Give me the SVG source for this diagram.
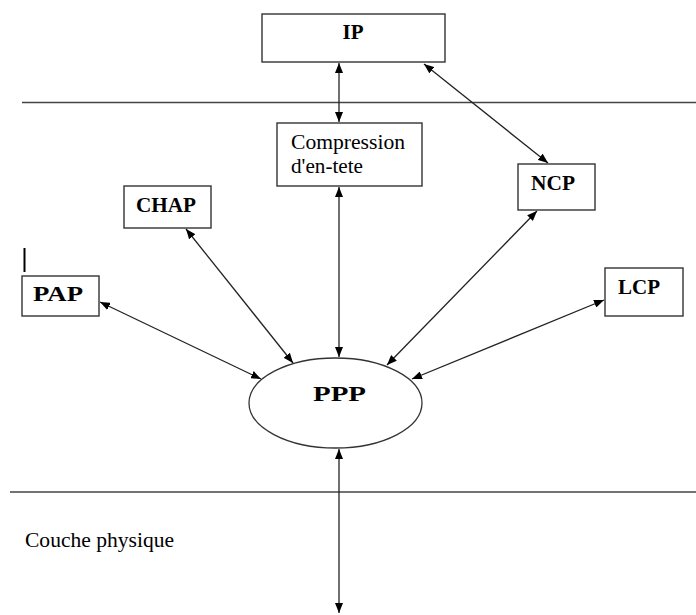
<svg xmlns="http://www.w3.org/2000/svg" width="696" height="615" viewBox="0 0 696 615">
  <style>
    .box { fill: #ffffff; stroke: #333333; stroke-width: 1.4; }
    .lbl { font-family: "Liberation Serif", "Times New Roman", serif; font-size: 21px; fill: #000000; }
    .b { font-weight: bold; }
    .layer { stroke: #444444; stroke-width: 1.3; }
    .link { stroke: #222222; stroke-width: 1.3; fill: none; marker-start: url(#tip); marker-end: url(#tip); }
  </style>
  <defs>
    <marker id="tip" viewBox="0 0 10 8" refX="10" refY="4" markerWidth="10" markerHeight="8" markerUnits="userSpaceOnUse" orient="auto-start-reverse">
      <path d="M0,0 L10,4 L0,8 Z" fill="#000000"/>
    </marker>
  </defs>

  <rect width="696" height="615" fill="#ffffff"/>

  <!-- layer separators -->
  <g id="layers">
    <line class="layer" x1="22" y1="102.5" x2="696" y2="102.5"/>
    <line class="layer" x1="10" y1="492" x2="696" y2="492"/>
    <line x1="24.5" y1="248" x2="24.5" y2="272" stroke="#000000" stroke-width="2"/>
  </g>

  <!-- connectors -->
  <g id="connectors">
    <line class="link" x1="339" y1="63" x2="339" y2="122"/>
    <line class="link" x1="339" y1="187" x2="339" y2="357"/>
    <line class="link" x1="424" y1="64" x2="548" y2="163"/>
    <line class="link" x1="537" y1="211" x2="387" y2="365"/>
    <line class="link" x1="604" y1="300" x2="412" y2="379"/>
    <line class="link" x1="186" y1="229" x2="293" y2="363"/>
    <line class="link" x1="100" y1="302" x2="261" y2="379"/>
    <line class="link" x1="339" y1="449" x2="339" y2="613"/>
  </g>

  <g id="ip">
    <rect class="box" x="262" y="14" width="183" height="48"/>
    <text class="lbl b" x="353" y="39" text-anchor="middle">IP</text>
  </g>

  <g id="compression">
    <rect class="box" x="277" y="123" width="145" height="63"/>
    <text class="lbl" x="291" y="149" font-size="21.5" textLength="114" lengthAdjust="spacingAndGlyphs">Compression</text>
    <text class="lbl" x="291" y="173" font-size="21.5" textLength="72" lengthAdjust="spacingAndGlyphs">d'en-tete</text>
  </g>

  <g id="chap">
    <rect class="box" x="124" y="186" width="87" height="42"/>
    <text class="lbl b" x="136" y="212" textLength="60" lengthAdjust="spacingAndGlyphs">CHAP</text>
  </g>

  <g id="pap">
    <rect class="box" x="22" y="276" width="77" height="40"/>
    <text class="lbl b" x="33" y="301" textLength="50" lengthAdjust="spacingAndGlyphs">PAP</text>
  </g>

  <g id="ncp">
    <rect class="box" x="518" y="164" width="77" height="46"/>
    <text class="lbl b" x="531" y="190" textLength="44" lengthAdjust="spacingAndGlyphs">NCP</text>
  </g>

  <g id="lcp">
    <rect class="box" x="605" y="268" width="78" height="48"/>
    <text class="lbl b" x="618" y="294" textLength="42" lengthAdjust="spacingAndGlyphs">LCP</text>
  </g>

  <g id="ppp">
    <ellipse cx="335.5" cy="403" rx="86.5" ry="45" fill="#ffffff" stroke="#333333" stroke-width="1.3"/>
    <text class="lbl b" x="313" y="401" font-size="27" textLength="53" lengthAdjust="spacingAndGlyphs">PPP</text>
  </g>

  <g id="physique">
    <text class="lbl" x="25" y="547" font-size="21.5" textLength="149" lengthAdjust="spacingAndGlyphs">Couche physique</text>
  </g>
</svg>
